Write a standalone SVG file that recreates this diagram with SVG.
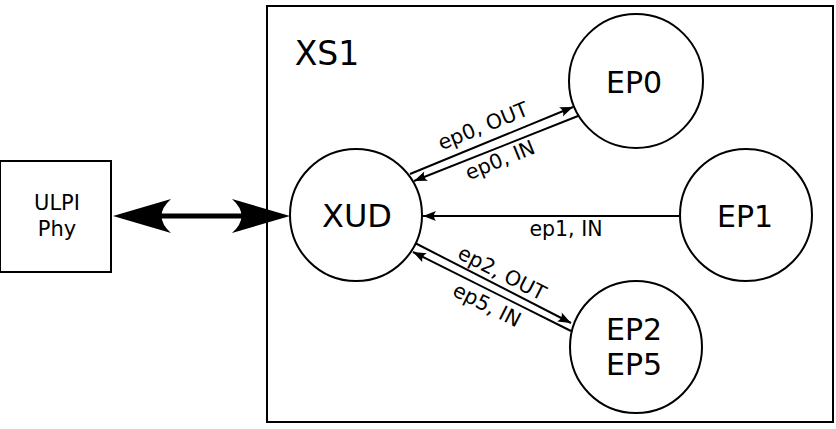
<svg xmlns="http://www.w3.org/2000/svg" width="836" height="429" viewBox="0 0 836 429">
<style>
.box{fill:#fff;stroke:#000;stroke-width:2}
.node{fill:#fff;stroke:#000;stroke-width:2}
.big{font-family:"DejaVu Sans",sans-serif;font-size:30px;fill:#000;text-anchor:middle}
.lbl{font-family:"DejaVu Sans",sans-serif;font-size:20.5px;fill:#000;text-anchor:middle}
.small{font-family:"DejaVu Sans",sans-serif;font-size:21px;fill:#000;text-anchor:middle}
.ln{stroke:#000;stroke-width:2;fill:none;marker-end:url(#ah)}
</style>
<defs>
<marker id="ah" markerUnits="userSpaceOnUse" viewBox="-14 -7 15 14" refX="0" refY="0" markerWidth="15" markerHeight="14" orient="auto" overflow="visible">
<path d="M0,0 L-13,-5 Q-9,0 -13,5 Z" fill="#000"/>
</marker>
</defs>
<rect id="xs1" class="box" x="267" y="6" width="566" height="416"/>
<text class="big" x="327" y="65" style="font-size:33px">XS1</text>
<g id="ulpi">
<rect class="box" x="0" y="161" width="111" height="111"/>
<text class="small" x="57" y="210">ULPI</text>
<text class="small" x="57" y="236">Phy</text>
</g>
<g id="connectors">
<line x1="160" y1="216" x2="245" y2="216" stroke="#000" stroke-width="5"/>
<path d="M113,216 L171,199 Q152,216 171,233 Z" fill="#000"/>
<path d="M290,216 L232,199 Q251,216 232,233 Z" fill="#000"/>
<line class="ln" x1="410" y1="174" x2="573" y2="107"/>
<line class="ln" x1="578" y1="116" x2="414" y2="181"/>
<line class="ln" x1="679" y1="216" x2="423" y2="216"/>
<line class="ln" x1="415" y1="243" x2="571" y2="323"/>
<line class="ln" x1="571" y1="331" x2="413" y2="252"/>
<text class="lbl" transform="translate(483,126) rotate(-22)" y="7">ep0, OUT</text>
<text class="lbl" transform="translate(500,160) rotate(-22)" y="7">ep0, IN</text>
<text class="lbl" x="566" y="236">ep1, IN</text>
<text class="lbl" transform="translate(502,273) rotate(27)" y="7">ep2, OUT</text>
<text class="lbl" transform="translate(487,305) rotate(27)" y="7">ep5, IN</text>
</g>
<g id="xud">
<circle class="node" cx="356" cy="215" r="66"/>
<text class="big" x="357" y="227" style="font-size:32px">XUD</text>
</g>
<g id="ep0">
<circle class="node" cx="636" cy="81" r="67"/>
<text class="big" x="634" y="93">EP0</text>
</g>
<g id="ep1">
<circle class="node" cx="746" cy="215" r="66"/>
<text class="big" x="745" y="227">EP1</text>
</g>
<g id="ep25">
<circle class="node" cx="636" cy="347" r="66"/>
<text class="big" x="634" y="340">EP2</text>
<text class="big" x="634" y="375">EP5</text>
</g>
</svg>
